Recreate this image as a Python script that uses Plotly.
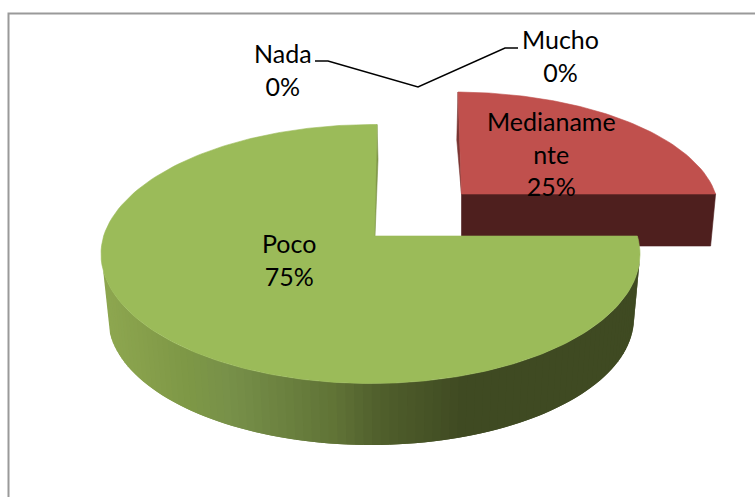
import math
import plotly.graph_objects as go

# ---- data ----
categories = ["Nada", "Mucho", "Medianamente", "Poco"]
values = [0, 0, 25, 75]
percent_labels = ["0%", "0%", "25%", "75%"]
label_text = ["Nada", "Mucho", "Medianame<br>nte", "Poco"]
label_x = [283, 560, 551.5, 289]
label_y = [69.5, 55, 153.5, 259.5]

# ---- chart geometry (pixel scale of the picture) ----
GREEN_TOP = dict(cx=370.5, cy=254.0, a=269.5, b=129.5, ax=374.5, ay=236.0, shear=2.5 / 111)
RED_TOP = dict(cx=458.0, cy=210.0, a=260.0, b=118.0, ax=461.5, ay=194.0, shear=-3.5 / 102)
GREEN_BOTTOM = dict(cx=371.0, cy=318.0, a=263.0, b=127.0)
RED_DEPTH = 52
RED_SHRINK = 5
BORDER = "#9a9a9a"
C_GREEN = "#9BBB59"
C_GREEN_CUT = "#7E9448"
C_RED = "#C0504D"
C_RED_WALL = "#4E1F1E"
C_RED_CUT = "#7A3533"
WALL_STOPS = [(100, (0x8E, 0xA7, 0x50)), (180, (0x7E, 0x98, 0x46)), (225, (0x77, 0x90, 0x49)),
              (330, (0x60, 0x73, 0x36)), (375, (0x50, 0x5F, 0x2C)), (460, (0x3F, 0x4A, 0x22)),
              (700, (0x3F, 0x4A, 0x22))]


def rim_point(e, clock_deg):
    """Where the ray from the apex at a clockwise-from-12 angle meets the rim."""
    t = math.radians(clock_deg)
    dx, dy = math.sin(t), -math.cos(t)
    ox, oy = (e["ax"] - e["cx"]) / e["a"], (e["ay"] - e["cy"]) / e["b"]
    ux, uy = dx / e["a"], dy / e["b"]
    A = ux * ux + uy * uy
    B = 2 * (ox * ux + oy * uy)
    C = ox * ox + oy * oy - 1
    r = (-B + math.sqrt(B * B - 4 * A * C)) / (2 * A)
    x, y = e["ax"] + r * dx, e["ay"] + r * dy
    if y < e["ay"]:
        x += e["shear"] * (e["ay"] - y)
    return x, y


def sector(e, start, stop):
    n = max(2, int(abs(stop - start)))
    pts = [rim_point(e, start + (stop - start) * i / n) for i in range(n + 1)]
    xs = [e["ax"]] + [p[0] for p in pts] + [e["ax"]]
    ys = [e["ay"]] + [p[1] for p in pts] + [e["ay"]]
    return xs, ys


def poly(xs, ys, color, width=0.6):
    return go.Scatter(x=xs, y=ys, mode="lines", fill="toself", fillcolor=color,
                      line=dict(color=color, width=width), hoverinfo="skip", showlegend=False)


def wall_color(x):
    for (x0, c0), (x1, c1) in zip(WALL_STOPS, WALL_STOPS[1:]):
        if x <= x1:
            k = max(0.0, (x - x0) / (x1 - x0))
            return "rgb(%d,%d,%d)" % tuple(round(a + (b - a) * k) for a, b in zip(c0, c1))
    return "rgb(63,74,34)"


def top(th):
    return GREEN_TOP["cx"] + GREEN_TOP["a"] * math.cos(th), GREEN_TOP["cy"] + GREEN_TOP["b"] * math.sin(th)


def bot(th):
    th = min(max(th, 0.0), math.pi)
    return GREEN_BOTTOM["cx"] + GREEN_BOTTOM["a"] * math.cos(th), GREEN_BOTTOM["cy"] + GREEN_BOTTOM["b"] * math.sin(th)


total = sum(values)
start = {}
acc = 0.0
for name, v in zip(categories, values):
    start[name] = (acc / total * 360, (acc + v) / total * 360)
    acc += v

fig = go.Figure()

# exploded red slice: walls first, then top face
r0, r1 = start["Medianamente"]
rx, ry = sector(RED_TOP, r0, r1)
p_right = rim_point(RED_TOP, r1)
p_top = rim_point(RED_TOP, r0)
fig.add_trace(poly([RED_TOP["ax"], p_right[0], p_right[0] - RED_SHRINK, RED_TOP["ax"], RED_TOP["ax"]],
                   [RED_TOP["ay"], p_right[1], p_right[1] + RED_DEPTH, p_right[1] + RED_DEPTH, RED_TOP["ay"]],
                   C_RED_WALL))
fig.add_trace(poly([p_top[0], p_top[0] - 1.2, RED_TOP["ax"], p_top[0]],
                   [p_top[1], p_top[1] + 48, RED_TOP["ay"], p_top[1]], C_RED_CUT))
fig.add_trace(poly(rx, ry, C_RED))

# green slice: outer wall in narrow shaded strips, each one overlapping the next
N = 90
a0, a1 = math.asin(0.125), math.asin(0.05)
tot_ang = math.pi - a0 - a1
for i in range(N):
    th0 = math.pi - a0 - tot_ang * i / N
    th1 = math.pi - a0 - tot_ang * min(i + 2, N) / N
    xs = [top(th0)[0], top(th1)[0], bot(th1)[0], bot(th0)[0], top(th0)[0]]
    ys = [top(th0)[1], top(th1)[1], bot(th1)[1], bot(th0)[1], top(th0)[1]]
    fig.add_trace(poly(xs, ys, wall_color(top(th0)[0]), width=0))

g0, g1 = start["Poco"]
gx, gy = sector(GREEN_TOP, g0, g1)
pg = rim_point(GREEN_TOP, g1)
fig.add_trace(poly([pg[0], pg[0] + 1, GREEN_TOP["ax"] + 0.5, GREEN_TOP["ax"] - 1.5, pg[0]],
                   [pg[1], pg[1] + 35, GREEN_TOP["ay"], GREEN_TOP["ay"], pg[1]], C_GREEN_CUT))
fig.add_trace(poly(gx, gy, C_GREEN))

# leader lines of the two 0% labels
leader_x = [315, 328, 418, 505, 518]
leader_y = [61, 61, 87, 48, 48]
fig.add_trace(go.Scatter(x=leader_x, y=leader_y, mode="lines", line=dict(color="black", width=1.5),
                         hoverinfo="skip", showlegend=False))

for t, pct, x, y in zip(label_text, percent_labels, label_x, label_y):
    fig.add_annotation(x=x, y=y, xref="x", yref="y", text=f"{t}<br>{pct}", showarrow=False,
                       font=dict(family="Lato", size=25, color="black"), align="center")

fig.add_shape(type="path", path="M 8.5 497 L 8.5 13.5 L 755 13.5", xref="x", yref="y",
              line=dict(color=BORDER, width=2))

fig.update_layout(width=755, height=497, margin=dict(l=0, r=0, t=0, b=0),
                  paper_bgcolor="white", plot_bgcolor="white", showlegend=False,
                  xaxis=dict(range=[0, 755], visible=False, fixedrange=True),
                  yaxis=dict(range=[497, 0], visible=False, fixedrange=True))
fig.write_html("out.html", config={"displayModeBar": False},
               post_script="document.body.style.margin='0';")
